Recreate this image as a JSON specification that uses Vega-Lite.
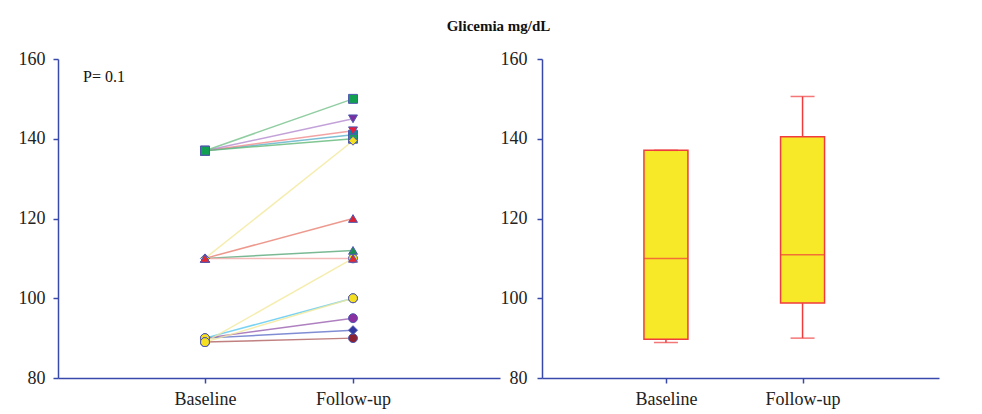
{
  "$schema": "https://vega.github.io/schema/vega-lite/v6.json",
  "background": "white",
  "padding": {"left": 18, "top": 19, "right": 5, "bottom": 5},
  "title": {"text": "Glicemia mg/dL", "font": "Liberation Serif", "fontSize": 15, "fontWeight": "bold", "color": "#111111", "anchor": "middle", "offset": 16, "dx": 20},
  "spacing": 0,
  "config": {
    "view": {"stroke": null},
    "axis": {
      "domainColor": "#3949ab", "tickColor": "#3949ab", "domainWidth": 1.5, "tickWidth": 1.5, "tickSize": 5,
      "labelFont": "Liberation Serif", "labelFontSize": 18, "labelColor": "#222222", "grid": false, "labelPadding": 8
    }
  },
  "datasets": {
    "paired": [
      {"subject": "S15", "time": "Baseline", "glucose": 89},
      {"subject": "S15", "time": "Follow-up", "glucose": 90},
      {"subject": "S14", "time": "Baseline", "glucose": 90},
      {"subject": "S14", "time": "Follow-up", "glucose": 92},
      {"subject": "S13", "time": "Baseline", "glucose": 90},
      {"subject": "S13", "time": "Follow-up", "glucose": 95},
      {"subject": "S10", "time": "Baseline", "glucose": 90},
      {"subject": "S10", "time": "Follow-up", "glucose": 100},
      {"subject": "S12", "time": "Baseline", "glucose": 89},
      {"subject": "S12", "time": "Follow-up", "glucose": 100},
      {"subject": "S11", "time": "Baseline", "glucose": 89},
      {"subject": "S11", "time": "Follow-up", "glucose": 110},
      {"subject": "S4", "time": "Baseline", "glucose": 137},
      {"subject": "S4", "time": "Follow-up", "glucose": 141},
      {"subject": "S3", "time": "Baseline", "glucose": 137},
      {"subject": "S3", "time": "Follow-up", "glucose": 142},
      {"subject": "S2", "time": "Baseline", "glucose": 137},
      {"subject": "S2", "time": "Follow-up", "glucose": 145},
      {"subject": "S5", "time": "Baseline", "glucose": 137},
      {"subject": "S5", "time": "Follow-up", "glucose": 140},
      {"subject": "S1", "time": "Baseline", "glucose": 137},
      {"subject": "S1", "time": "Follow-up", "glucose": 150},
      {"subject": "S6", "time": "Baseline", "glucose": 110},
      {"subject": "S6", "time": "Follow-up", "glucose": 139.5},
      {"subject": "S8", "time": "Baseline", "glucose": 110},
      {"subject": "S8", "time": "Follow-up", "glucose": 112},
      {"subject": "S7", "time": "Baseline", "glucose": 110},
      {"subject": "S7", "time": "Follow-up", "glucose": 120},
      {"subject": "S9", "time": "Baseline", "glucose": 110},
      {"subject": "S9", "time": "Follow-up", "glucose": 110}
    ],
    "box": [
      {"time": "Baseline", "min": 88.9, "q1": 89.7, "median": 110, "q3": 137.1, "max": 137.1},
      {"time": "Follow-up", "min": 90, "q1": 98.8, "median": 110.9, "q3": 140.5, "max": 150.6}
    ]
  },
  "hconcat": [
    {
      "width": 442,
      "height": 319,
      "data": {"name": "paired"},
      "title": {"text": "P= 0.1", "anchor": "start", "frame": "group", "offset": -35, "dx": 25, "font": "Liberation Serif", "fontSize": 16, "fontWeight": "normal", "color": "#111111"},
      "encoding": {
        "x": {"field": "time", "type": "ordinal", "sort": ["Baseline", "Follow-up"], "scale": {"type": "point", "padding": 0.993},
              "axis": {"title": null, "labelAngle": 0, "labelPadding": 7}},
        "y": {"field": "glucose", "type": "quantitative", "scale": {"domain": [80, 160]},
              "axis": {"title": null, "values": [80, 100, 120, 140, 160]}}
      },
      "layer": [
        {
          "mark": {"type": "line", "strokeWidth": 1.5, "opacity": 0.8},
          "encoding": {
            "stroke": {"field": "subject", "type": "nominal", "legend": null,
              "scale": {
                "domain": ["S1", "S2", "S3", "S4", "S5", "S6", "S7", "S8", "S9", "S10", "S11", "S12", "S13", "S14", "S15"],
                "range": ["#74c08a", "#b48ad0", "#f08c8c", "#5ab0c8", "#60b878", "#f2e898", "#e88070", "#58a878", "#f4a8a8", "#5ac8f0", "#f2e898", "#f2e898", "#9a60b0", "#6070c8", "#b06060"]
              }}
          }
        },
        {
          "mark": {"type": "point", "filled": true, "size": 80, "stroke": "#5058b0", "strokeWidth": 1, "opacity": 1},
          "encoding": {
            "fill": {"field": "subject", "type": "nominal", "legend": null,
              "scale": {
                "domain": ["S1", "S2", "S3", "S4", "S5", "S6", "S7", "S8", "S9", "S10", "S11", "S12", "S13", "S14", "S15"],
                "range": ["#10a050", "#7a2fa0", "#e8203a", "#0a8a9a", "#18a060", "#f4e020", "#e02030", "#1a9050", "#e82830", "#f8e020", "#f4e020", "#f4e020", "#8a30a0", "#3038a0", "#8a2030"]
              }},
            "shape": {"field": "subject", "type": "nominal", "legend": null,
              "scale": {
                "domain": ["S1", "S2", "S3", "S4", "S5", "S6", "S7", "S8", "S9", "S10", "S11", "S12", "S13", "S14", "S15"],
                "range": ["square", "triangle-down", "triangle-down", "square", "square", "diamond", "triangle-up", "triangle-up", "triangle-up", "circle", "circle", "circle", "circle", "diamond", "circle"]
              }}
          }
        }
      ]
    },
    {
      "width": 397,
      "height": 319,
      "data": {"name": "box"},
      "encoding": {
        "x": {"field": "time", "type": "ordinal", "sort": ["Baseline", "Follow-up"], "scale": {"type": "point", "padding": 0.953, "align": 0.476},
              "axis": {"title": null, "labelAngle": 0, "labelPadding": 7}}
      },
      "layer": [
        {
          "mark": {"type": "rule", "color": "#f03c3c", "strokeWidth": 1.5},
          "encoding": {
            "y": {"field": "min", "type": "quantitative", "scale": {"domain": [80, 160]}, "axis": {"title": null, "values": [80, 100, 120, 140, 160], "labelPadding": 10}},
            "y2": {"field": "max"}
          }
        },
        {
          "mark": {"type": "bar", "size": 44, "fill": "#f7e928", "stroke": "#f03c3c", "strokeWidth": 1.5},
          "encoding": {
            "y": {"field": "q1", "type": "quantitative", "title": null},
            "y2": {"field": "q3"}
          }
        },
        {
          "mark": {"type": "tick", "color": "#f03c3c", "size": 44, "thickness": 1.5},
          "encoding": {"y": {"field": "median", "type": "quantitative", "title": null}}
        },
        {
          "mark": {"type": "tick", "color": "#f03c3c", "size": 24, "thickness": 1.5},
          "encoding": {"y": {"field": "min", "type": "quantitative", "title": null}}
        },
        {
          "mark": {"type": "tick", "color": "#f03c3c", "size": 24, "thickness": 1.5},
          "encoding": {"y": {"field": "max", "type": "quantitative", "title": null}}
        }
      ]
    }
  ]
}
